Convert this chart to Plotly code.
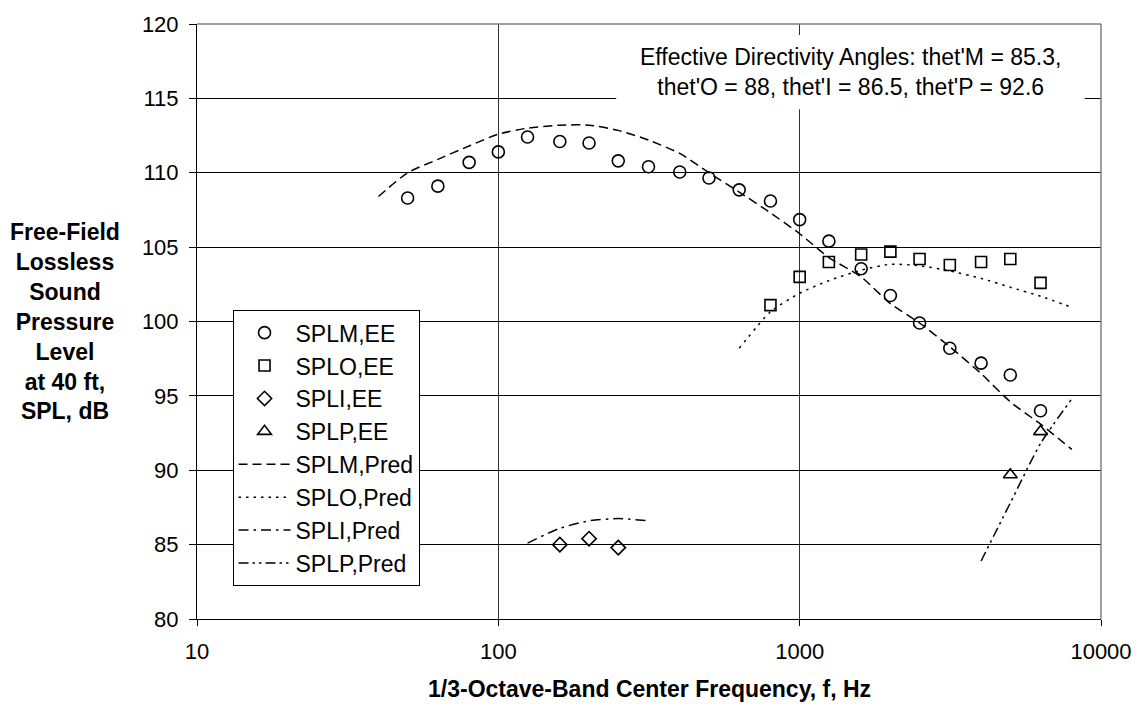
import plotly.graph_objects as go

# Measured (EE) 1/3-octave band levels
freq_m = [50, 63, 80, 100, 125, 160, 200, 250, 315, 400, 500, 630, 800, 1000,
          1250, 1600, 2000, 2500, 3150, 4000, 5000, 6300]
splm_ee = [108.3, 109.1, 110.7, 111.4, 112.4, 112.1, 112.0, 110.8, 110.4, 110.05,
           109.65, 108.85, 108.1, 106.85, 105.4, 103.55, 101.75, 99.9, 98.2, 97.2,
           96.4, 94.0]

freq_o = [800, 1000, 1250, 1600, 2000, 2500, 3150, 4000, 5000, 6300]
splo_ee = [101.1, 103.0, 104.0, 104.5, 104.7, 104.2, 103.8, 104.0, 104.2, 102.6]

freq_i = [160, 200, 250]
spli_ee = [85.0, 85.4, 84.8]

freq_p = [5000, 6300]
splp_ee = [89.7, 92.6]

# Predicted levels
freq_mp = [40, 50, 63, 80, 100, 125, 160, 200, 250, 315, 400, 500, 630, 800, 1000,
           1250, 1600, 2000, 2500, 3150, 4000, 5000, 6300, 8000]
splm_pred = [108.4, 110.0, 110.9, 111.8, 112.6, 113.0, 113.2, 113.2, 112.85, 112.2,
             111.3, 110.0, 108.7, 107.3, 105.9, 104.3, 103.0, 101.2, 99.9, 98.3,
             96.5, 94.6, 93.1, 91.4]

freq_op = [630, 800, 1000, 1250, 1600, 2000, 2500, 3150, 4000, 5000, 6300, 8000]
splo_pred = [98.2, 100.65, 101.9, 102.75, 103.45, 103.85, 103.75, 103.4, 102.9,
             102.3, 101.7, 100.95]

freq_ip = [125, 160, 200, 250, 315]
spli_pred = [85.1, 86.1, 86.6, 86.75, 86.6]

freq_pp = [4000, 5000, 6300, 8000]
splp_pred = [83.9, 87.8, 91.8, 94.8]

x_ticks = [10, 100, 1000, 10000]
x_tick_text = ["10", "100", "1000", "10000"]

FONT = "Liberation Sans, Arial, sans-serif"
BLACK = "#000000"

fig = go.Figure()

marker_series = [
    ("SPLM,EE", freq_m, splm_ee, "circle-open", 12),
    ("SPLO,EE", freq_o, splo_ee, "square-open", 11),
    ("SPLI,EE", freq_i, spli_ee, "diamond-open", 11),
    ("SPLP,EE", freq_p, splp_ee, "triangle-up-open", 12),
]
for name, xs, ys, sym, size in marker_series:
    fig.add_trace(go.Scatter(
        x=xs, y=ys, mode="markers", name=name,
        marker=dict(symbol=sym, size=size, color=BLACK,
                    line=dict(color=BLACK, width=1.6)),
    ))

line_series = [
    ("SPLM,Pred", freq_mp, splm_pred, "9px,5px"),
    ("SPLO,Pred", freq_op, splo_pred, "2.5px,5px"),
    ("SPLI,Pred", freq_ip, spli_pred, "10px,5px,2.5px,5px"),
    ("SPLP,Pred", freq_pp, splp_pred, "10px,4px,2.5px,4px,2.5px,4px"),
]
for name, xs, ys, dash in line_series:
    fig.add_trace(go.Scatter(
        x=xs, y=ys, mode="lines", name=name,
        line=dict(color=BLACK, width=1.5, dash=dash, shape="spline", smoothing=0.6),
    ))

fig.update_layout(
    width=1144, height=704,
    margin=dict(l=197, r=38, t=19, b=85),
    paper_bgcolor="white", plot_bgcolor="white",
    font=dict(family=FONT, size=22, color=BLACK),
    showlegend=True,
    legend=dict(
        x=0.0393, y=0.519, xanchor="left", yanchor="top",
        bgcolor="white", bordercolor=BLACK, borderwidth=1,
        font=dict(family=FONT, size=23, color=BLACK),
        itemwidth=52,
    ),
    xaxis=dict(
        type="log", range=[1, 4],
        tickvals=x_ticks, ticktext=x_tick_text,
        showgrid=True, gridcolor="#333333", gridwidth=1,
        showline=True, linecolor=BLACK, linewidth=1,
        ticks="outside", ticklen=6, tickcolor=BLACK, tickwidth=1,
        ticklabelstandoff=7,
        zeroline=False,
        tickfont=dict(family=FONT, size=22, color=BLACK),
    ),
    yaxis=dict(
        range=[80, 120], dtick=5, tick0=80,
        showgrid=True, gridcolor=BLACK, gridwidth=1,
        showline=True, linecolor=BLACK, linewidth=1,
        ticks="outside", ticklen=7, tickcolor=BLACK, tickwidth=1,
        ticklabelstandoff=6,
        zeroline=False,
        tickfont=dict(family=FONT, size=22, color=BLACK),
    ),
)

# Gray frame on top and right edges of the plot area
fig.add_shape(type="line", xref="paper", yref="paper", x0=0, x1=1, y0=1, y1=1,
              line=dict(color="#808080", width=1.5), layer="above")
fig.add_shape(type="line", xref="paper", yref="paper", x0=1, x1=1, y0=0, y1=1,
              line=dict(color="#808080", width=1.5), layer="above")

# White panel behind the directivity-angle note
fig.add_shape(type="rect", xref="paper", yref="paper",
              x0=(618.7 - 197.3) / 908.7, x1=(1089.7 - 197.3) / 908.7,
              y0=(619.3 - 105.3) / 600, y1=(619.3 - 30.3) / 600,
              fillcolor="white", line=dict(width=0), layer="above")

fig.add_annotation(
    xref="paper", yref="paper", x=(854 - 197.3) / 908.7, y=(619.3 - 68) / 600,
    xanchor="center", yanchor="middle", showarrow=False,
    text="Effective Directivity Angles: thet'M = 85.3,<br>thet'O = 88, thet'I = 86.5, thet'P = 92.6",
    font=dict(family=FONT, size=23, color=BLACK), align="center",
)

# Axis titles
fig.add_annotation(
    xref="paper", yref="paper", x=(65 - 197.3) / 908.7, y=0.5,
    xanchor="center", yanchor="middle", showarrow=False, align="center",
    text="<b>Free-Field<br>Lossless<br>Sound<br>Pressure<br>Level<br>at 40 ft,<br>SPL, dB</b>",
    font=dict(family=FONT, size=23, color=BLACK),
)
fig.add_annotation(
    xref="paper", yref="paper", x=0.5, y=(619.3 - 690) / 600,
    xanchor="center", yanchor="middle", showarrow=False,
    text="<b>1/3-Octave-Band Center Frequency, f, Hz</b>",
    font=dict(family=FONT, size=23, color=BLACK),
)

fig.write_html("out.html")
